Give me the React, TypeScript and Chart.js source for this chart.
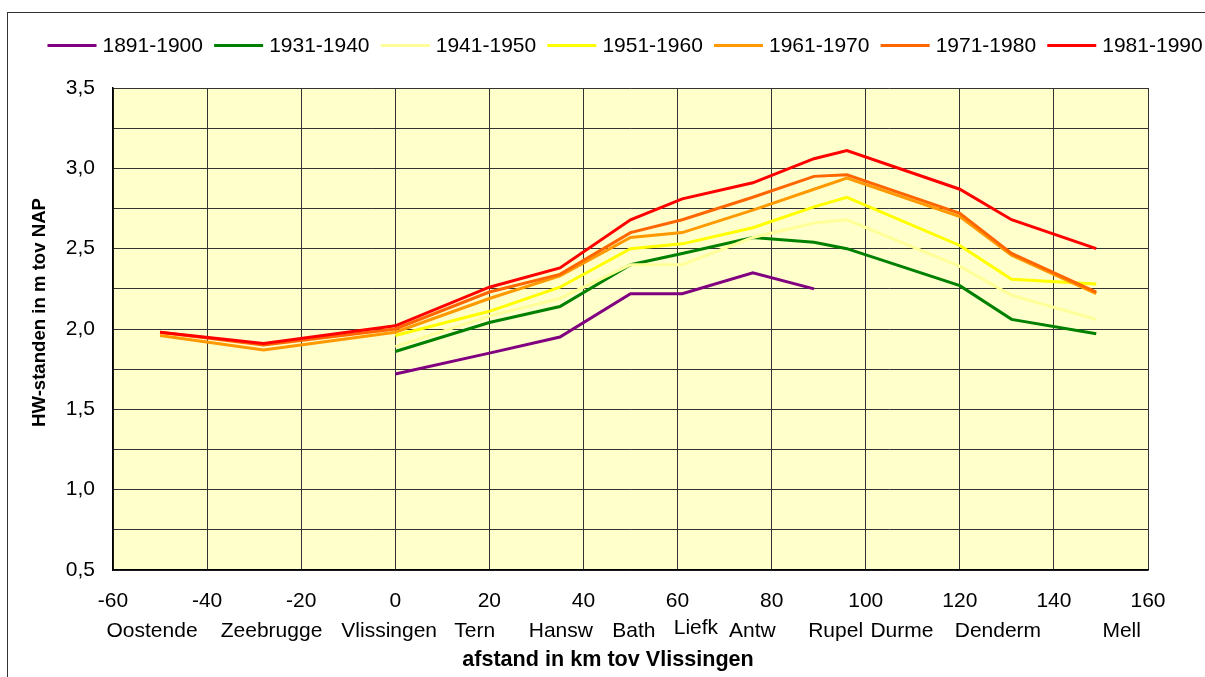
import React, { useEffect, useRef } from "react";
import { Chart, registerables } from "chart.js";

Chart.register(...registerables);

// distance in km from Vlissingen of each measuring station
const km = [-50, -28, 0, 20, 35, 50, 61, 76, 89, 96, 120, 131, 149];

const periods = ["1891-1900", "1931-1940", "1941-1950", "1951-1960", "1961-1970", "1971-1980", "1981-1990"];

const s1891 = [null, null, 1.72, 1.85, 1.95, 2.22, 2.22, 2.35, 2.25, null, null, null, null];
const s1931 = [null, null, 1.86, 2.04, 2.14, 2.40, 2.47, 2.57, 2.54, 2.50, 2.27, 2.06, 1.97];
const s1941 = [null, null, 1.89, 2.08, 2.19, 2.40, 2.40, 2.57, 2.66, 2.68, 2.39, 2.21, 2.06];
const s1951 = [null, null, 1.96, 2.11, 2.26, 2.50, 2.53, 2.63, 2.76, 2.82, 2.52, 2.31, 2.28];
const s1961 = [1.96, 1.87, 1.98, 2.19, 2.33, 2.57, 2.60, 2.74, 2.87, 2.94, 2.70, 2.46, 2.22];
const s1971 = [1.98, 1.90, 2.00, 2.23, 2.34, 2.60, 2.68, 2.82, 2.95, 2.96, 2.72, 2.47, 2.23];
const s1981 = [1.98, 1.91, 2.02, 2.26, 2.38, 2.68, 2.81, 2.91, 3.06, 3.11, 2.87, 2.68, 2.50];

const seriesValues = [s1891, s1931, s1941, s1951, s1961, s1971, s1981];
const seriesColors = ["#800080", "#008000", "#FFFF99", "#FFFF00", "#FF9900", "#FF6600", "#FF0000"];

// second row of x labels: station names and where they are written (km)
const stationNames = ["Oostende", "Zeebrugge", "Vlissingen", "Tern", "Hansw", "Bath", "Liefk", "Antw", "Rupel", "Durme", "Denderm", "Mell"];
const stationLabelKm = [-51.7, -26.3, -1.3, 16.9, 35.2, 50.7, 63.9, 75.9, 93.6, 107.7, 128.1, 154.4];

const xTitle = "afstand in km tov Vlissingen";
const yTitle = "HW-standen in m tov NAP";

const FONT = "'Liberation Sans', Arial, sans-serif";

const plotBg = {
  id: "plotBg",
  beforeDraw(chart: any) {
    const { ctx, chartArea } = chart;
    ctx.save();
    ctx.fillStyle = "#FFFFCC";
    ctx.fillRect(chartArea.left, chartArea.top, chartArea.right - chartArea.left, chartArea.bottom - chartArea.top);
    ctx.restore();
  },
};

const stationLabels = {
  id: "stationLabels",
  afterDraw(chart: any) {
    const { ctx } = chart;
    const xs = chart.scales.x;
    ctx.save();
    ctx.font = `21px ${FONT}`;
    ctx.fillStyle = "#000";
    ctx.textAlign = "center";
    ctx.textBaseline = "middle";
    stationNames.forEach((n, i) => {
      const dy = n === "Liefk" ? -3 : 0;
      ctx.fillText(n, xs.getPixelForValue(stationLabelKm[i]), 631 + dy);
    });
    ctx.restore();
  },
};

const axisTitles = {
  id: "axisTitles",
  afterDraw(chart: any) {
    const { ctx } = chart;
    ctx.save();
    ctx.fillStyle = "#000";
    ctx.textAlign = "center";
    ctx.textBaseline = "middle";
    ctx.font = `bold 21.6px ${FONT}`;
    ctx.fillText(xTitle, 608, 660);
    ctx.translate(40, 312.5);
    ctx.rotate(-Math.PI / 2);
    ctx.font = `bold 18.6px ${FONT}`;
    ctx.fillText(yTitle, 0, 0);
    ctx.restore();
  },
};

const topLegend = {
  id: "topLegend",
  afterDraw(chart: any) {
    const { ctx } = chart;
    ctx.save();
    ctx.font = `21px ${FONT}`;
    ctx.textBaseline = "middle";
    ctx.textAlign = "left";
    let x = 47.5;
    const y = 45.5;
    chart.data.datasets.forEach((ds: any) => {
      ctx.strokeStyle = ds.borderColor;
      ctx.lineWidth = 3;
      ctx.beginPath();
      ctx.moveTo(x, y);
      ctx.lineTo(x + 49, y);
      ctx.stroke();
      ctx.fillStyle = "#000";
      ctx.fillText(ds.label, x + 55, y + 0.5);
      x += 49 + 6 + ctx.measureText(ds.label).width + 11.2;
    });
    ctx.restore();
  },
};

export default function App() {
  const ref = useRef<HTMLCanvasElement | null>(null);

  useEffect(() => {
    if (!ref.current) return;
    const datasets = periods.map((p, i) => ({
      label: p,
      data: km
        .map((k, j) => ({ x: k, y: seriesValues[i][j] }))
        .filter((pt) => pt.y !== null),
      borderColor: seriesColors[i],
      backgroundColor: seriesColors[i],
      borderWidth: 3,
      pointRadius: 0,
      tension: 0,
      fill: false,
      order: periods.length - 1 - i,
    }));

    const chart = new Chart(ref.current, {
      type: "line",
      data: { datasets },
      plugins: [plotBg, stationLabels, axisTitles, topLegend],
      options: {
        animation: false,
        responsive: false,
        maintainAspectRatio: false,
        layout: { padding: { left: 0, right: 57, top: 88, bottom: 0 } },
        plugins: {
          legend: { display: false },
          tooltip: { enabled: false },
        },
        scales: {
          x: {
            type: "linear",
            position: "bottom",
            min: -60,
            max: 160,
            afterFit: (s: any) => {
              s.height = 107;
            },
            ticks: {
              stepSize: 20,
              color: "#000",
              padding: 19,
              font: { size: 21, family: FONT },
              maxRotation: 0,
            },
            grid: { color: "#333", lineWidth: 1, drawTicks: false },
            border: { color: "#000", width: 1.5 },
          },
          y: {
            type: "linear",
            min: 0.5,
            max: 3.5,
            afterFit: (s: any) => {
              s.width = 113;
            },
            ticks: {
              stepSize: 0.25,
              color: "#000",
              padding: 18,
              font: { size: 21, family: FONT },
              callback: (v: any) => {
                const n = Number(v);
                return Math.abs(n * 2 - Math.round(n * 2)) < 1e-6 ? n.toFixed(1).replace(".", ",") : "";
              },
            },
            grid: { color: "#333", lineWidth: 1, drawTicks: false },
            border: { color: "#000", width: 1.5 },
          },
        },
      },
    });
    return () => chart.destroy();
  }, []);

  return (
    <div style={{ position: "fixed", left: 0, top: 0, width: 1205, height: 677, background: "#fff", overflow: "hidden" }}>
      <div
        style={{
          position: "absolute",
          left: 7,
          top: 12,
          width: 1300,
          height: 800,
          borderLeft: "1.5px solid #333",
          borderTop: "1.5px solid #333",
        }}
      />
      <canvas ref={ref} width={1205} height={677} style={{ position: "absolute", left: 0, top: 0, width: 1205, height: 677 }} />
    </div>
  );
}
